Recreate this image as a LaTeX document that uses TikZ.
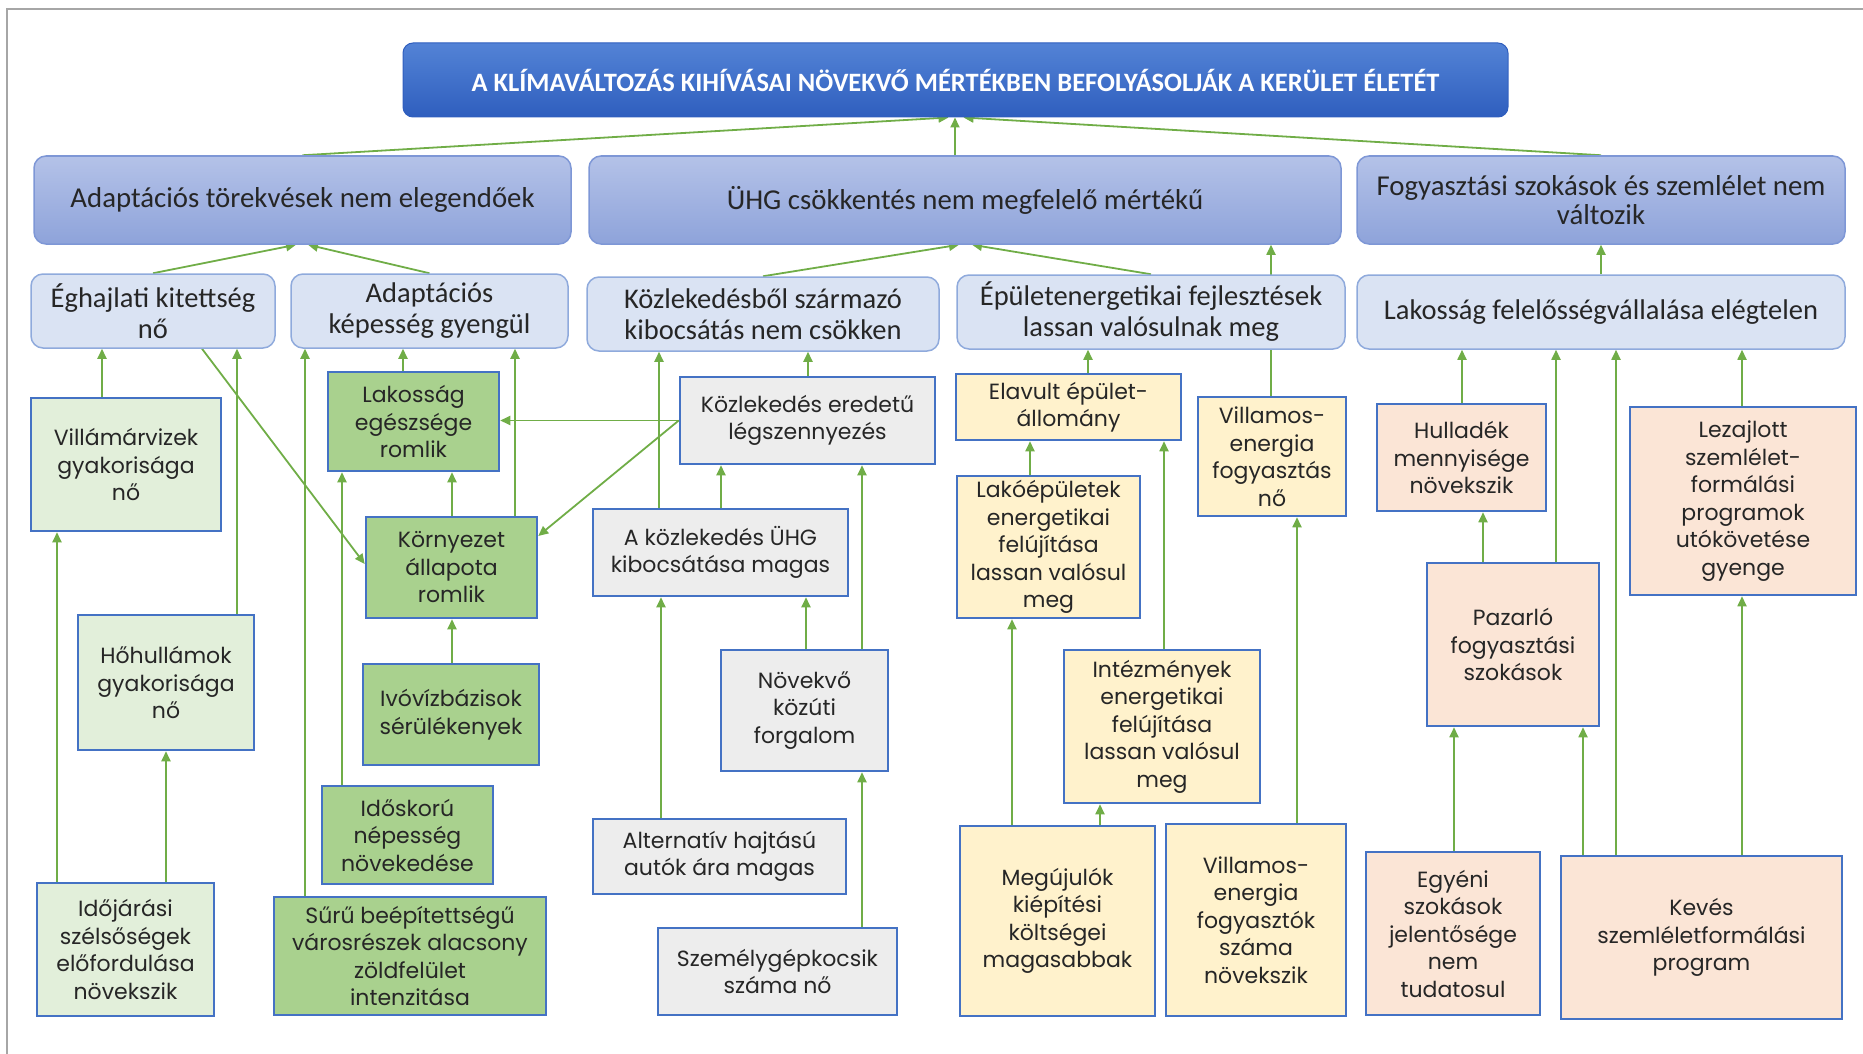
\documentclass[tikz,border=0pt]{standalone}
\usepackage{fontspec}
\usetikzlibrary{arrows.meta,calc}
\newfontfamily\boxfont{Poppins}
\newfontfamily\hdfont{Carlito}
\definecolor{txt}{HTML}{262626}
\definecolor{ttltop}{HTML}{5383D6}
\definecolor{ttlbot}{HTML}{2F5EBE}
\definecolor{l1top}{HTML}{B4C2E8}
\definecolor{l1bot}{HTML}{8EA3DA}
\definecolor{l1line}{HTML}{7E97D6}
\definecolor{l2fill}{HTML}{DAE3F3}
\definecolor{l2line}{HTML}{8FAADC}
\definecolor{boxline}{HTML}{4472C4}
\definecolor{lgfill}{HTML}{E2EFDA}
\definecolor{gnfill}{HTML}{A9D18E}
\definecolor{gyfill}{HTML}{EDEDED}
\definecolor{ylfill}{HTML}{FFF2CC}
\definecolor{skfill}{HTML}{FBE5D6}
\definecolor{arrc}{HTML}{70AD47}
\definecolor{frame}{HTML}{A6A6A6}
\pgfdeclarelayer{bg}
\pgfsetlayers{bg,main}
\newcommand{\mkbox}[7]{%
  \pgfmathsetmacro\BXw{#4-#2}\pgfmathsetmacro\BXh{#5-#3}%
  \pgfmathsetmacro\BXx{(#2+#4)/2}\pgfmathsetmacro\BXy{(#3+#5)/2}%
  \node[#6, minimum width=\BXw pt, minimum height=\BXh pt] (#1) at (\BXx,\BXy) {#7};}
\tikzset{
  base/.style={align=center, inner sep=0pt, text=txt},
  ttl/.style={base, rounded corners=10pt, top color=ttltop, bottom color=ttlbot, draw=ttlbot, line width=1pt, text=white, font=\hdfont\bfseries\fontsize{26.5}{30}\selectfont},
  lv1/.style={base, rounded corners=12pt, top color=l1top, bottom color=l1bot, draw=l1line, line width=1.5pt, font=\hdfont\fontsize{28.8}{29}\selectfont},
  lv2/.style={base, rounded corners=12pt, fill=l2fill, draw=l2line, line width=1.5pt, font=\hdfont\fontsize{28.5}{31}\selectfont},
  cb/.style={base, draw=boxline, line width=2.5pt, font=\boxfont\fontsize{22}{27.5}\selectfont},
  lgb/.style={cb, fill=lgfill},
  gnb/.style={cb, fill=gnfill},
  gyb/.style={cb, fill=gyfill},
  ylb/.style={cb, fill=ylfill},
  skb/.style={cb, fill=skfill},
  arr/.style={draw=arrc, line width=1.8pt, -{Triangle[length=10pt,width=9pt]}},
  frm/.style={draw=frame, line width=2pt}
}
\begin{document}
\begin{tikzpicture}[x=1pt,y=-1pt]
\useasboundingbox (0,0) rectangle (1863,1054);
\coordinate (fa) at (7,1054);
\coordinate (fb) at (7,9);
\coordinate (fc) at (1863,9);
\draw[frm] (fa) -- (fb) -- (fc);

% title and level 1
\mkbox{title}{403}{43}{1508}{117}{ttl}{A KLÍMAVÁLTOZÁS KIHÍVÁSAI NÖVEKVŐ MÉRTÉKBEN BEFOLYÁSOLJÁK A KERÜLET ÉLETÉT}
\mkbox{adapt}{34}{156}{571}{244}{lv1}{Adaptációs törekvések nem elegendőek}
\mkbox{uhg}{589}{156}{1341}{244}{lv1}{ÜHG csökkentés nem megfelelő mértékű}
\mkbox{fogy}{1357}{156}{1845}{244}{lv1}{Fogyasztási szokások és szemlélet nem\\változik}

% level 2
\mkbox{eghaj}{31}{274}{275}{348}{lv2}{Éghajlati kitettség\\nő}
\mkbox{adkep}{291}{274}{568}{348}{lv2}{Adaptációs\\képesség gyengül}
\mkbox{kozlkib}{587}{277}{939}{351}{lv2}{Közlekedésből származó\\kibocsátás nem csökken}
\mkbox{epul}{957}{275}{1345}{349}{lv2}{Épületenergetikai fejlesztések\\lassan valósulnak meg}
\mkbox{lak}{1357}{275}{1845}{349}{lv2}{Lakosság felelősségvállalása elégtelen}

% adaptation column
\mkbox{villam}{31}{398}{221}{531}{lgb}{Villámárvizek\\gyakorisága\\nő}
\mkbox{hohull}{78}{615}{254}{750}{lgb}{Hőhullámok\\gyakorisága\\nő}
\mkbox{idojar}{37}{883}{214}{1016}{lgb}{Időjárási\\szélsőségek\\előfordulása\\növekszik}
\mkbox{lakeg}{328}{372}{499}{471}{gnb}{Lakosság\\egészsége\\romlik}
\mkbox{kornyezet}{366}{517}{537}{618}{gnb}{Környezet\\állapota\\romlik}
\mkbox{ivoviz}{363}{664}{539}{765}{gnb}{Ivóvízbázisok\\sérülékenyek}
\mkbox{idos}{322}{786}{493}{884}{gnb}{Időskorú\\népesség\\növekedése}
\mkbox{suru}{274}{897}{546}{1015}{gnb}{Sűrű beépítettségű\\városrészek alacsony\\zöldfelület\\intenzitása}

% transport column
\mkbox{kozleg}{680}{377}{935}{464}{gyb}{Közlekedés eredetű\\légszennyezés}
\mkbox{akozl}{593}{509}{848}{596}{gyb}{A közlekedés ÜHG\\kibocsátása magas}
\mkbox{novekvo}{721}{650}{888}{771}{gyb}{Növekvő\\közúti\\forgalom}
\mkbox{altern}{593}{819}{846}{894}{gyb}{Alternatív hajtású\\autók ára magas}
\mkbox{szemely}{658}{928}{897}{1015}{gyb}{Személygépkocsik\\száma nő}

% building column
\mkbox{elavult}{956}{374}{1181}{440}{ylb}{Elavult épület-\\állomány}
\mkbox{lakoep}{957}{476}{1140}{618}{ylb}{Lakóépületek\\energetikai\\felújítása\\lassan valósul\\meg}
\mkbox{villno}{1198}{397}{1346}{516}{ylb}{Villamos-\\energia\\fogyasztás\\nő}
\mkbox{intez}{1064}{650}{1260}{803}{ylb}{Intézmények\\energetikai\\felújítása\\lassan valósul\\meg}
\mkbox{megujul}{960}{826}{1155}{1016}{ylb}{Megújulók\\kiépítési\\költségei\\magasabbak}
\mkbox{villfogy}{1166}{824}{1346}{1016}{ylb}{Villamos-\\energia\\fogyasztók\\száma\\növekszik}

% consumption column
\mkbox{hullad}{1377}{404}{1546}{511}{skb}{Hulladék\\mennyisége\\növekszik}
\mkbox{pazarlo}{1427}{563}{1599}{726}{skb}{Pazarló\\fogyasztási\\szokások}
\mkbox{lezajl}{1630}{407}{1856}{595}{skb}{Lezajlott\\szemlélet-\\formálási\\programok\\utókövetése\\gyenge}
\mkbox{egyeni}{1366}{852}{1540}{1015}{skb}{Egyéni\\szokások\\jelentősége\\nem\\tudatosul}
\mkbox{keves}{1561}{856}{1842}{1019}{skb}{Kevés\\szemléletformálási\\program}

\begin{pgfonlayer}{bg}
% to title
\draw[arr] (adapt.north) -- ([xshift=-7pt]title.south);
\draw[arr] (uhg.north -| 955,0) -- (title.south -| 955,0);
\draw[arr] (fogy.north) -- ([xshift=8pt]title.south);
% level 2 to level 1
\draw[arr] (eghaj.north) -- (adapt.south -| 296,0);
\draw[arr] (adkep.north) -- (adapt.south -| 308,0);
\draw[arr] (kozlkib.north) -- (uhg.south -| 959,0);
\draw[arr] (epul.north) -- (uhg.south -| 972,0);
\draw[arr] (lak.north) -- (fogy.south);
\draw[arr] (villno.north -| 1271,0) -- (uhg.south -| 1271,0);
% adaptation
\draw[arr] (villam.north -| 102,0) -- (eghaj.south -| 102,0);
\draw[arr] (hohull.north -| 237,0) -- (eghaj.south -| 237,0);
\draw[arr] (eghaj.south -| 202,0) -- (kornyezet.west |- 0,564);
\draw[arr] (suru.north -| 305,0) -- (adkep.south -| 305,0);
\draw[arr] (lakeg.north -| 403,0) -- (adkep.south -| 403,0);
\draw[arr] (kornyezet.north -| 515,0) -- (adkep.south -| 515,0);
\draw[arr] (idos.north -| 342,0) -- (lakeg.south -| 342,0);
\draw[arr] (kornyezet.north -| 452,0) -- (lakeg.south -| 452,0);
\draw[arr] (ivoviz.north -| 452,0) -- (kornyezet.south -| 452,0);
\draw[arr] (idojar.north -| 57,0) -- (villam.south -| 57,0);
\draw[arr] (idojar.north -| 166,0) -- (hohull.south -| 166,0);
\draw[arr] (kozleg.west) -- (lakeg.east |- kozleg.west);
\draw[arr] (kozleg.west) -- (kornyezet.east |- 0,536);
% transport
\draw[arr] (kozleg.north -| 808,0) -- (kozlkib.south -| 808,0);
\draw[arr] (akozl.north -| 659,0) -- (kozlkib.south -| 659,0);
\draw[arr] (akozl.north -| 721,0) -- (kozleg.south -| 721,0);
\draw[arr] (novekvo.north -| 862,0) -- (kozleg.south -| 862,0);
\draw[arr] (novekvo.north -| 806,0) -- (akozl.south -| 806,0);
\draw[arr] (altern.north -| 661,0) -- (akozl.south -| 661,0);
\draw[arr] (szemely.north -| 862,0) -- (novekvo.south -| 862,0);
% building
\draw[arr] (elavult.north -| 1088,0) -- (epul.south -| 1088,0);
\draw[arr] (lakoep.north -| 1030,0) -- (elavult.south -| 1030,0);
\draw[arr] (intez.north -| 1164,0) -- (elavult.south -| 1164,0);
\draw[arr] (megujul.north -| 1012,0) -- (lakoep.south -| 1012,0);
\draw[arr] (megujul.north -| 1100,0) -- (intez.south -| 1100,0);
\draw[arr] (villfogy.north -| 1297,0) -- (villno.south -| 1297,0);
% consumption
\draw[arr] (hullad.north -| 1462,0) -- (lak.south -| 1462,0);
\draw[arr] (pazarlo.north -| 1556,0) -- (lak.south -| 1556,0);
\draw[arr] (pazarlo.north -| 1483,0) -- (hullad.south -| 1483,0);
\draw[arr] (egyeni.north -| 1454,0) -- (pazarlo.south -| 1454,0);
\draw[arr] (keves.north -| 1583,0) -- (pazarlo.south -| 1583,0);
\draw[arr] (keves.north -| 1616,0) -- (lak.south -| 1616,0);
\draw[arr] (keves.north -| 1742,0) -- (lezajl.south -| 1742,0);
\draw[arr] (lezajl.north -| 1742,0) -- (lak.south -| 1742,0);
\end{pgfonlayer}
\end{tikzpicture}
\end{document}
